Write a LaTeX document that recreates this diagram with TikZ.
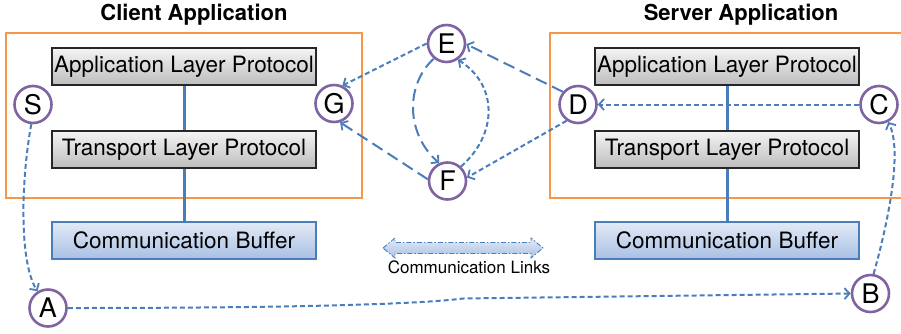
\documentclass[tikz,border=0pt]{standalone}
\usepackage{fontspec}
\setmainfont{TeX Gyre Heros}
\usetikzlibrary{arrows.meta}
\definecolor{orng}{HTML}{F79646}
\definecolor{purp}{HTML}{8064A2}
\definecolor{lnk}{HTML}{4A7EBB}
\definecolor{bufT}{HTML}{E2EAF6}
\definecolor{bufB}{HTML}{A9C0E4}
\definecolor{grT}{HTML}{F4F4F4}
\definecolor{grB}{HTML}{BDBDBD}
\begin{document}
\begin{tikzpicture}[x=1pt,y=-1pt,
  lbl/.style={font=\fontsize{22.5}{24}\selectfont},
  ttl/.style={font=\bfseries\fontsize{22}{24}\selectfont},
  graybox/.style={draw=black!85, line width=1.4pt, top color=grT, bottom color=grB,
     minimum width=264pt, minimum height=37pt, inner sep=0pt, lbl},
  bufbox/.style={draw=lnk, line width=1.7pt, top color=bufT, bottom color=bufB,
     minimum width=264pt, minimum height=37pt, inner sep=0pt, lbl},
  appbox/.style={draw=orng, line width=2.8pt, minimum width=356pt, minimum height=165pt, inner sep=0pt},
  circ/.style={circle, draw=purp, line width=2.6pt, fill=white, minimum size=37pt, inner sep=0pt,
     font=\fontsize{27}{27}\selectfont},
  vconn/.style={draw=lnk, line width=3pt},
  tip/.style={-{Straight Barb[length=5pt,width=11pt,line width=1.8pt]}},
  sdash/.style={draw=lnk, line width=2pt, dash pattern=on 5pt off 3pt, tip},
  ldash/.style={draw=lnk, line width=2pt, dash pattern=on 12pt off 6pt, tip}
]
\useasboundingbox (0,0) rectangle (901,333);

% titles
\node[ttl] (ctitle) at (194,15) {Client Application};
\node[ttl] (stitle) at (741,15) {Server Application};

% application frames
\node[appbox] (cbox) at (184,115.5) {};
\node[appbox] (sbox) at (728,115.5) {};

% layer boxes
\node[graybox] (capp) at (184,66.5) {Application Layer Protocol};
\node[graybox] (ctp)  at (184,149.5) {Transport Layer Protocol};
\node[bufbox]  (cbuf) at (184,240.5) {Communication Buffer};
\node[graybox] (sapp) at (727,66.5) {Application Layer Protocol};
\node[graybox] (stp)  at (727,149.5) {Transport Layer Protocol};
\node[bufbox]  (sbuf) at (727,240.5) {Communication Buffer};

\draw[vconn] (capp) -- (ctp);
\draw[vconn] (ctp) -- (cbuf);
\draw[vconn] (sapp) -- (stp);
\draw[vconn] (stp) -- (sbuf);

% circles
\node[circ] (S) at (33,104.5) {S};
\node[circ] (G) at (334,103.5) {G};
\node[circ] (E) at (446.5,43.5) {E};
\node[circ] (F) at (447.5,181) {F};
\node[circ] (D) at (578,104.5) {D};
\node[circ] (C) at (879,104.5) {C};
\node[circ] (A) at (48,308) {A};
\node[circ] (B) at (870.5,293.5) {B};

% connectors
\draw[sdash] (S.-95) .. controls (21,180) and (19,262) .. (A.122);
\draw[sdash] (A.east) .. controls (300,308) and (420,304) .. (463,298.5) -- (B.west);
\draw[sdash] (B.81) .. controls (890,215) and (902,150) .. (C.-62);
\draw[sdash] (C.west) -- (D.east);
\draw[ldash] (D.140) -- (E.-2);
\draw[sdash] (D.-125) -- (F.10);
\draw[sdash] (E.180) -- (G.65);
\draw[ldash] (F.175) -- (G.-72);
\draw[ldash] (E.-130) .. controls (405,85) and (406,134) .. (F.115);
\draw[sdash] (F.47) .. controls (498,134) and (498,85) .. (E.-55);

% legend
\draw[draw=lnk, line width=0.9pt, dash pattern=on 5pt off 2pt on 1.5pt off 2pt, top color=bufT, bottom color=bufB]
  (383,248) -- (395,238) -- (395,242.5) -- (531,242.5) -- (531,238) -- (543,248)
  -- (531,258) -- (531,253.5) -- (395,253.5) -- (395,258) -- cycle;
\node[font=\fontsize{17}{19}\selectfont] (legend) at (469,267.5) {Communication Links};
\end{tikzpicture}
\end{document}
